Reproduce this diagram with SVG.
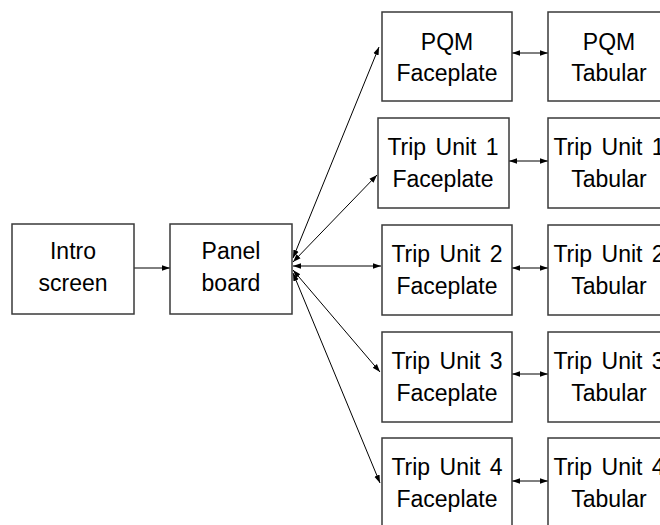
<svg xmlns="http://www.w3.org/2000/svg" width="660" height="525" viewBox="0 0 660 525">
<style>
.n rect{fill:#fff;stroke:#3a3a3a;stroke-width:1.5}
text{font-family:"Liberation Sans",Arial,sans-serif;font-size:23px;fill:#000;text-anchor:middle;word-spacing:3px}
.c line{stroke:#000;stroke-width:1;fill:none}
</style>
<defs>
<marker id="ah" viewBox="0 0 10 10" refX="10" refY="5" markerWidth="8" markerHeight="8" markerUnits="userSpaceOnUse" orient="auto-start-reverse">
<path d="M0,1.5 L10,5 L0,8.5 z" fill="#000"/>
</marker>
</defs>
<rect width="660" height="525" fill="#fff"/>
<g class="c">
<line x1="134" y1="268" x2="170" y2="268" marker-end="url(#ah)"/>
<line x1="293" y1="258" x2="379" y2="47" marker-start="url(#ah)" marker-end="url(#ah)"/>
<line x1="293" y1="262" x2="377" y2="175" marker-start="url(#ah)" marker-end="url(#ah)"/>
<line x1="293" y1="266" x2="381" y2="266" marker-start="url(#ah)" marker-end="url(#ah)"/>
<line x1="293" y1="270" x2="380" y2="372" marker-start="url(#ah)" marker-end="url(#ah)"/>
<line x1="293" y1="273" x2="380" y2="483" marker-start="url(#ah)" marker-end="url(#ah)"/>
<line x1="512" y1="53" x2="548" y2="53" marker-start="url(#ah)" marker-end="url(#ah)"/>
<line x1="509" y1="161" x2="548" y2="161" marker-start="url(#ah)" marker-end="url(#ah)"/>
<line x1="512" y1="268" x2="548" y2="268" marker-start="url(#ah)" marker-end="url(#ah)"/>
<line x1="512" y1="374" x2="548" y2="374" marker-start="url(#ah)" marker-end="url(#ah)"/>
<line x1="512" y1="481" x2="548" y2="481" marker-start="url(#ah)" marker-end="url(#ah)"/>
</g>
<g class="n">
<g id="intro"><rect x="12" y="224" width="122" height="90"/><text x="73" y="259">Intro</text><text x="73" y="291">screen</text></g>
<g id="panel"><rect x="170" y="224" width="122" height="90"/><text x="231" y="259">Panel</text><text x="231" y="291">board</text></g>
<g id="pqm-face"><rect x="382" y="12" width="130" height="89"/><text x="447" y="50">PQM</text><text x="447" y="81">Faceplate</text></g>
<g id="pqm-tab"><rect x="548" y="12" width="122" height="89"/><text x="609" y="50">PQM</text><text x="609" y="81">Tabular</text></g>
<g id="tu1-face"><rect x="378" y="118" width="131" height="90"/><text x="443" y="155">Trip Unit 1</text><text x="443" y="187">Faceplate</text></g>
<g id="tu1-tab"><rect x="548" y="118" width="122" height="90"/><text x="609" y="155">Trip Unit 1</text><text x="609" y="187">Tabular</text></g>
<g id="tu2-face"><rect x="382" y="225" width="130" height="90"/><text x="447" y="262">Trip Unit 2</text><text x="447" y="294">Faceplate</text></g>
<g id="tu2-tab"><rect x="548" y="225" width="122" height="90"/><text x="609" y="262">Trip Unit 2</text><text x="609" y="294">Tabular</text></g>
<g id="tu3-face"><rect x="382" y="332" width="130" height="90"/><text x="447" y="369">Trip Unit 3</text><text x="447" y="401">Faceplate</text></g>
<g id="tu3-tab"><rect x="548" y="332" width="122" height="90"/><text x="609" y="369">Trip Unit 3</text><text x="609" y="401">Tabular</text></g>
<g id="tu4-face"><rect x="382" y="438" width="130" height="90"/><text x="447" y="475">Trip Unit 4</text><text x="447" y="507">Faceplate</text></g>
<g id="tu4-tab"><rect x="548" y="438" width="122" height="90"/><text x="609" y="475">Trip Unit 4</text><text x="609" y="507">Tabular</text></g>
</g>
</svg>
